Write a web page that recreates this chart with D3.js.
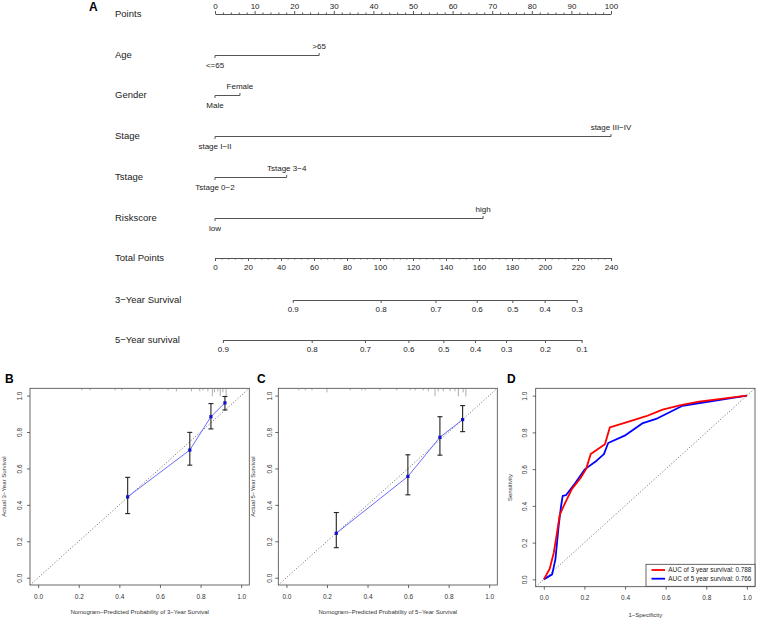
<!DOCTYPE html>
<html><head><meta charset="utf-8">
<script src="https://cdn.jsdelivr.net/npm/d3@7"></script>
<style>
body{margin:0;background:#fff;}
svg{display:block;font-family:"Liberation Sans",Arial,Helvetica,sans-serif;}
</style></head><body>
<svg id="c" width="758" height="619"></svg>
<script>
// ---------- Nomogram data ----------
const pointsTicks = [0,10,20,30,40,50,60,70,80,90,100];
const pointsMinor = [2,4,6,8,12,14,16,18,22,24,26,28,32,34,36,38,42,44,46,48,52,54,56,58,62,64,66,68,72,74,76,78,82,84,86,88,92,94,96,98];
const nomoVars = ["Age","Gender","Stage","Tstage","Riskscore"];
const lowLevels = ["<=65","Male","stage I\u2212II","Tstage 0\u22122","low"];
const highLevels = [">65","Female","stage III\u2212IV","Tstage 3\u22124","high"];
const lowPoints = [0,0,0,0,0];
const highPoints = [26.3,6.3,100,18.1,67.7];
const totalTicks = [0,20,40,60,80,100,120,140,160,180,200,220,240];
const totalMinor = [4,8,12,16,24,28,32,36,44,48,52,56,64,68,72,76,84,88,92,96,104,108,112,116,124,128,132,136,144,148,152,156,164,168,172,176,184,188,192,196,204,208,212,216,224,228,232,236];
const surv3Labels = [0.9,0.8,0.7,0.6,0.5,0.4,0.3];
const surv3Total = [47.1,100.4,133.6,158.6,180.2,199.8,219.2];
const surv5Labels = [0.9,0.8,0.7,0.6,0.5,0.4,0.3,0.2,0.1];
const surv5Total = [4.8,58.6,90.9,117.2,138.4,157.6,176.4,200.0,222.2];

// ---------- Calibration data ----------
const calTicks = [0,0.2,0.4,0.6,0.8,1.0];
const cal3Pred = [0.441,0.747,0.851,0.920];
const cal3Obs  = [0.444,0.701,0.884,0.960];
const cal3Lo   = [0.352,0.618,0.817,0.921];
const cal3Hi   = [0.551,0.798,0.956,0.995];
const cal3Rug  = [0.215,0.256,0.379,0.412,0.501,0.550,0.640,0.681,0.755,0.796,0.812,0.836,0.858,0.869,0.885,0.897,0.910,0.926];
const cal3RugLen=[2,2,2,2,2,2,2,3,3,3,2,3,8,4,3,8,4,8];
const cal5Pred = [0.246,0.599,0.757,0.869];
const cal5Obs  = [0.244,0.556,0.771,0.868];
const cal5Lo   = [0.165,0.455,0.673,0.802];
const cal5Hi   = [0.358,0.675,0.884,0.945];
const cal5Rug  = [0.061,0.093,0.126,0.200,0.315,0.372,0.389,0.462,0.544,0.610,0.635,0.675,0.700,0.733,0.749,0.774,0.807,0.831,0.848,0.872,0.885];
const cal5RugLen=[2,2,2,4,2,2,2,2,2,2,2,2,3,8,3,3,3,3,8,4,8];

// ---------- ROC data ----------
const roc3FPR = [0,0.029,0.049,0.065,0.078,0.098,0.138,0.179,0.208,0.231,0.301,0.325,0.406,0.504,0.585,0.675,0.764,1.0];
const roc3TPR = [0,0.058,0.145,0.254,0.349,0.400,0.491,0.549,0.600,0.682,0.736,0.827,0.855,0.888,0.924,0.949,0.967,1.0];
const roc5FPR = [0,0.041,0.057,0.073,0.085,0.093,0.109,0.155,0.203,0.260,0.296,0.317,0.398,0.488,0.553,0.683,1.0];
const roc5TPR = [0,0.027,0.109,0.291,0.400,0.454,0.458,0.524,0.600,0.646,0.682,0.742,0.782,0.851,0.873,0.945,1.0];
const legendLabels = ["AUC of 3 year survival:  0.788","AUC of 5 year survival:  0.766"];
const legendColors = ["#ff0000","#0000ff"];

const svg = d3.select("#c");
const TXT = "#222";
const LINE = "#555";

// ================= Panel A: nomogram =================
const xPts = d3.scaleLinear().domain([0,100]).range([215,611]);
const xTot = d3.scaleLinear().domain([0,240]).range([215,611]);
const rowY = [14,55,95,136,177,218,258,300,340];
const labX = 115;

svg.append("text").attr("x",89).attr("y",11).attr("font-size",12).attr("font-weight","bold").attr("fill","#000").text("A");

function rowLabel(t,y){
  svg.append("text").attr("x",labX).attr("y",y).attr("dy","0.35em").attr("font-size",9.5).attr("fill",TXT).text(t);
}
function styleAxis(g,fs){
  g.selectAll("path").attr("stroke",LINE).attr("stroke-width",1);
  g.selectAll("line").attr("stroke",LINE).attr("stroke-width",1);
  g.selectAll("text").attr("font-size",fs).attr("fill",TXT).attr("font-family",null);
  g.attr("font-family",null);
}

// Points
rowLabel("Points",rowY[0]);
{
  const g = svg.append("g").attr("transform",`translate(0,${rowY[0]})`)
    .call(d3.axisTop(xPts).tickValues(pointsTicks).tickSize(3).tickSizeOuter(0).tickPadding(2).tickFormat(d3.format("d")));
  styleAxis(g,8);
  const gm = svg.append("g").attr("transform",`translate(0,${rowY[0]})`)
    .call(d3.axisTop(xPts).tickValues(pointsMinor).tickSize(1.5).tickSizeOuter(0).tickFormat(""));
  gm.select("path").remove();
  styleAxis(gm,8);
}

// Variables
nomoVars.forEach((v,i)=>{
  const y = rowY[i+1] + 0.5;
  rowLabel(v,rowY[i+1]);
  const x0 = xPts(lowPoints[i]), x1 = xPts(highPoints[i]);
  svg.append("line").attr("x1",x0).attr("x2",x1).attr("y1",y).attr("y2",y).attr("stroke",LINE);
  svg.append("line").attr("x1",x0).attr("x2",x0).attr("y1",y).attr("y2",y+2.5).attr("stroke",LINE);
  svg.append("line").attr("x1",x1).attr("x2",x1).attr("y1",y).attr("y2",y-2.5).attr("stroke",LINE);
  svg.append("text").attr("x",x0).attr("y",y+10).attr("dy","0.35em").attr("text-anchor","middle").attr("font-size",8).attr("fill",TXT).text(lowLevels[i]);
  svg.append("text").attr("x",x1).attr("y",y-9).attr("dy","0.35em").attr("text-anchor","middle").attr("font-size",8).attr("fill",TXT).text(highLevels[i]);
});

// Total points
rowLabel("Total Points",rowY[6]);
{
  const g = svg.append("g").attr("transform",`translate(0,${rowY[6]})`)
    .call(d3.axisBottom(xTot).tickValues(totalTicks).tickSize(3).tickSizeOuter(0).tickPadding(3).tickFormat(d3.format("d")));
  styleAxis(g,8);
  const gm = svg.append("g").attr("transform",`translate(0,${rowY[6]})`)
    .call(d3.axisBottom(xTot).tickValues(totalMinor).tickSize(1.5).tickSizeOuter(0).tickFormat(""));
  gm.select("path").remove();
  styleAxis(gm,8);
}

// Survival axes
function survAxis(label,labels,totals,y){
  rowLabel(label,y);
  const s = d3.scaleLinear().domain(labels).range(totals.map(t=>xTot(t)));
  const g = svg.append("g").attr("transform",`translate(0,${y})`)
    .call(d3.axisBottom(s).tickValues(labels).tickSize(3).tickSizeOuter(0).tickPadding(3).tickFormat(d3.format(".1f")));
  styleAxis(g,8);
}
survAxis("3\u2212Year Survival",surv3Labels,surv3Total,rowY[7]);
survAxis("5\u2212Year survival",surv5Labels,surv5Total,rowY[8]);

// ================= Panels B, C, D =================
const AX = "#333";
function panelFrame(o){
  const x = d3.scaleLinear().domain([-0.04,1.04]).range([o.x0,o.x1]);
  const y = d3.scaleLinear().domain([-0.04,1.04]).range([o.y1,o.y0]);
  svg.append("text").attr("x",o.lx).attr("y",383).attr("font-size",12).attr("font-weight","bold").attr("fill","#000").text(o.letter);
  svg.append("rect").attr("x",o.x0).attr("y",o.y0).attr("width",o.x1-o.x0).attr("height",o.y1-o.y0)
    .attr("fill","none").attr("stroke","#444").attr("stroke-width",0.8);
  const gx = svg.append("g").attr("transform",`translate(0,${o.y1})`)
    .call(d3.axisBottom(x).tickValues(calTicks).tickSize(3).tickSizeOuter(0).tickPadding(6).tickFormat(d3.format(".1f")));
  gx.select("path").remove();
  gx.selectAll("line").attr("stroke","#444").attr("stroke-width",0.8);
  gx.selectAll("text").attr("font-size",6.5).attr("fill",AX);
  gx.attr("font-family",null);
  const gy = svg.append("g").attr("transform",`translate(${o.x0},0)`)
    .call(d3.axisLeft(y).tickValues(calTicks).tickSize(3).tickSizeOuter(0).tickFormat(d3.format(".1f")));
  gy.select("path").remove();
  gy.selectAll("line").attr("stroke","#444").attr("stroke-width",0.8);
  gy.selectAll("text").attr("font-size",6.5).attr("fill",AX)
    .attr("x",null).attr("dy",null).attr("text-anchor","middle")
    .attr("transform",`translate(${o.ytx-o.x0},0) rotate(-90)`).attr("y",0).attr("dy","0.35em");
  gy.attr("font-family",null);
  svg.append("text").attr("x",(o.x0+o.x1)/2 + (o.xtOff||0)).attr("y",o.xty).attr("dy","0.35em").attr("text-anchor","middle")
    .attr("font-size",6).attr("fill",AX).text(o.xtitle);
  svg.append("text").attr("transform",`translate(${o.yttx},${(o.y0+o.y1)/2}) rotate(-90)`).attr("dy","0.35em")
    .attr("text-anchor","middle").attr("font-size",6).attr("fill",AX).text(o.ytitle);
  // diagonal
  svg.append("line").attr("x1",x(-0.04)).attr("y1",y(-0.04)).attr("x2",x(1.04)).attr("y2",y(1.04))
    .attr("stroke","#555").attr("stroke-width",0.9).attr("stroke-dasharray","1,2");
  return {x,y};
}

function calPanel(o,pred,obs,lo,hi,rug,rugLen){
  const {x,y} = panelFrame(o);
  // rug
  svg.append("g").selectAll("line").data(rug).join("line")
    .attr("x1",d=>x(d)).attr("x2",d=>x(d)).attr("y1",o.y0).attr("y2",(d,i)=>o.y0+rugLen[i])
    .attr("stroke","#777").attr("stroke-width",0.6);
  // error bars
  const gb = svg.append("g");
  pred.forEach((p,i)=>{
    gb.append("line").attr("x1",x(p)).attr("x2",x(p)).attr("y1",y(lo[i])).attr("y2",y(hi[i])).attr("stroke","#222").attr("stroke-width",1.1);
    [lo[i],hi[i]].forEach(v=>gb.append("line").attr("x1",x(p)-2.5).attr("x2",x(p)+2.5).attr("y1",y(v)).attr("y2",y(v)).attr("stroke","#222").attr("stroke-width",1.1));
  });
  const line = d3.line().x((d,i)=>x(pred[i])).y(d=>y(d));
  svg.append("path").datum(obs).attr("d",line).attr("fill","none").attr("stroke","#5a5aff").attr("stroke-width",0.9);
  svg.append("g").selectAll("rect").data(obs).join("rect")
    .attr("x",(d,i)=>x(pred[i])-1.6).attr("y",d=>y(d)-1.6).attr("width",3.2).attr("height",3.2).attr("fill","#1010d0");
}

calPanel({letter:"B",lx:5,x0:30,x1:249.3,y0:388.3,y1:585,ytx:20,yttx:4,xty:611.5,
  xtitle:"Nomogram\u2212Predicted Probability of 3\u2212Year Survival",ytitle:"Actual 3\u2212Year Survival"},
  cal3Pred,cal3Obs,cal3Lo,cal3Hi,cal3Rug,cal3RugLen);
calPanel({letter:"C",lx:257,x0:278.3,x1:497.3,y0:388.3,y1:585,ytx:269.3,yttx:253,xty:611.5,
  xtitle:"Nomogram\u2212Predicted Probability of 5\u2212Year Survival",ytitle:"Actual 5\u2212Year Survival"},
  cal5Pred,cal5Obs,cal5Lo,cal5Hi,cal5Rug,cal5RugLen);

// ROC panel
{
  const o = {letter:"D",lx:507,x0:535.7,x1:755,y0:388.3,y1:586.7,ytx:525,yttx:510,xty:615,
    xtitle:"1\u2212Specificity",ytitle:"Sensitivity"};
  const {x,y} = panelFrame(o);
  const line = d3.line().x(d=>x(d[0])).y(d=>y(d[1]));
  svg.append("path").datum(roc5FPR.map((f,i)=>[f,roc5TPR[i]])).attr("d",line).attr("fill","none").attr("stroke","#0000ff").attr("stroke-width",1.8).attr("stroke-linejoin","round");
  svg.append("path").datum(roc3FPR.map((f,i)=>[f,roc3TPR[i]])).attr("d",line).attr("fill","none").attr("stroke","#ff0000").attr("stroke-width",1.8).attr("stroke-linejoin","round");
  // legend
  const lg = svg.append("g");
  lg.append("rect").attr("x",646).attr("y",564.3).attr("width",109).attr("height",22).attr("fill","#fff").attr("stroke","#444").attr("stroke-width",0.8);
  legendLabels.forEach((t,i)=>{
    const yy = 570 + i*8.7;
    lg.append("line").attr("x1",651.5).attr("x2",665).attr("y1",yy).attr("y2",yy).attr("stroke",legendColors[i]).attr("stroke-width",1.8);
    lg.append("text").attr("x",668.3).attr("y",yy).attr("dy","0.35em").attr("font-size",6.4).attr("fill","#222").text(t);
  });
}
</script>
</body></html>
